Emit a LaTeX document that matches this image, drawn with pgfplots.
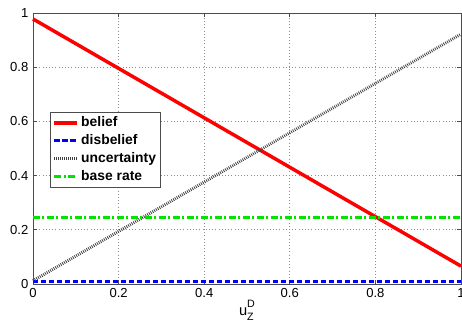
\documentclass[border=0pt]{standalone}
\usepackage{fontspec}
\setmainfont{Liberation Sans}
\usepackage{pgfplots}
\pgfplotsset{compat=1.18}
\begin{document}
\begin{tikzpicture}[x=1pt,y=1pt]
\begin{axis}[
  at={(0,0)}, anchor=origin,
  scale only axis,
  width=321pt, height=203.25pt,
  xmin=0, xmax=1, ymin=0, ymax=1,
  xtick={0,0.2,0.4,0.6,0.8,1},
  ytick={0,0.2,0.4,0.6,0.8,1},
  xticklabels={0,0.2,0.4,0.6,0.8,1},
  yticklabels={0,0.2,0.4,0.6,0.8,1},
  /pgf/number format/assume math mode=true,
  tick align=inside,
  major tick length=3pt,
  tick style={black!70, line width=0.5pt},
  axis line style={black!70, line width=0.6pt},
  grid=major,
  major grid style={dotted, black!45, line width=0.5pt},
  tick label style={font=\fontsize{9.8}{11}\selectfont},
  xlabel={\fontsize{11}{12}\selectfont u\raisebox{-0.35em}{\makebox[0pt][l]{\fontsize{8}{9}\selectfont Z}}\raisebox{0.55em}{\fontsize{8}{9}\selectfont D}},
  xlabel style={yshift=5pt},
  legend style={at={(0.04,0.635)}, anchor=north west, draw=black!70, line width=0.5pt,
    font=\fontsize{10.4}{12}\selectfont\bfseries, inner sep=1.5pt, row sep=0.4pt,
    cells={anchor=west}},
  legend image code/.code={\draw[#1] (0pt,0pt) -- (17pt,0pt);},
  legend cell align=left,
  clip=false,
]
\addplot[red, line width=2.6pt] coordinates {(0,0.978) (1,0.066)};
\addlegendentry{belief}
\addplot[blue, line width=2.2pt, dash pattern=on 4pt off 2pt] coordinates {(0,0.009) (1,0.009)};
\addlegendentry{disbelief}
\addplot[black!75, line width=2.2pt, dash pattern=on 0.6pt off 0.9pt] coordinates {(0,0.012) (1,0.922)};
\addlegendentry{uncertainty}
\addplot[green!90!black, line width=2.2pt, dash pattern=on 5pt off 2pt on 1.5pt off 2pt] coordinates {(0,0.247) (1,0.247)};
\addlegendentry{base rate}
\end{axis}
\pgfresetboundingbox
\path (-24.75pt,-29.25pt) rectangle (321.75pt,213pt);
\end{tikzpicture}
\end{document}
